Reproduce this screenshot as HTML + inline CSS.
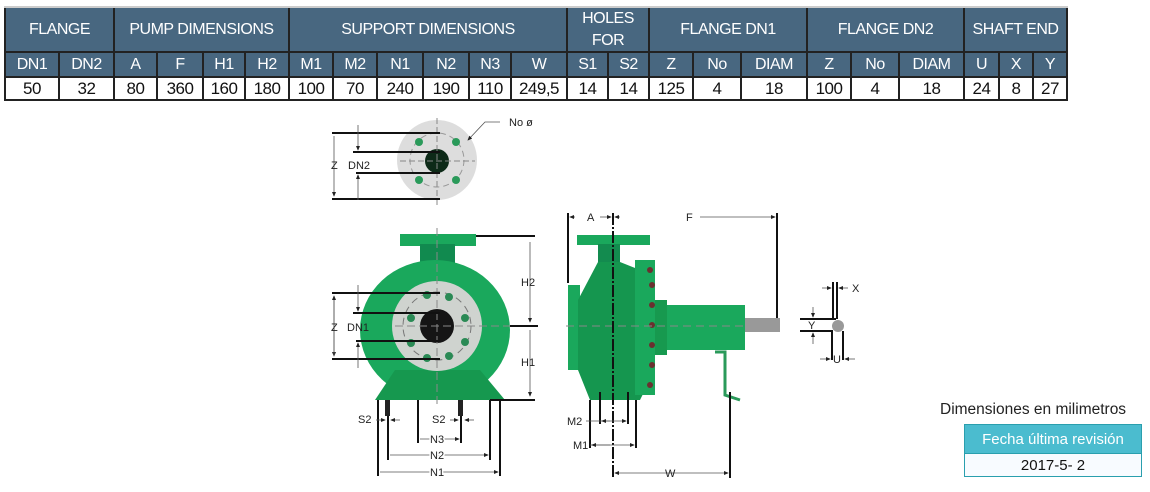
<!DOCTYPE html>
<html><head><meta charset="utf-8"><style>
body{margin:0;width:1150px;height:492px;background:#fff;position:relative;overflow:hidden;font-family:"Liberation Sans",sans-serif}
.c{position:absolute;display:flex;align-items:center;justify-content:center;box-sizing:border-box;text-align:center;letter-spacing:-0.5px}
.h{background:#486780;color:#fff;font-size:16px;border-right:2px solid #222;border-bottom:2px solid #222}
.d{background:#fff;color:#111;font-size:17px;border-right:2px solid #222;border-bottom:2px solid #222}
</style></head><body>
<div style="position:absolute;left:4px;top:6px;width:1064px;height:2px;background:#ccc"></div>
<div style="position:absolute;left:4px;top:8px;width:2px;height:93px;background:#222"></div>
<div class="c h" style="left:6px;top:8px;width:109px;height:45px">FLANGE</div>
<div class="c h" style="left:115px;top:8px;width:175px;height:45px">PUMP DIMENSIONS</div>
<div class="c h" style="left:290px;top:8px;width:278px;height:45px">SUPPORT DIMENSIONS</div>
<div class="c h" style="left:568px;top:8px;width:82px;height:45px;line-height:22px">HOLES<br>FOR</div>
<div class="c h" style="left:650px;top:8px;width:158px;height:45px">FLANGE DN1</div>
<div class="c h" style="left:808px;top:8px;width:157px;height:45px">FLANGE DN2</div>
<div class="c h" style="left:965px;top:8px;width:103px;height:45px">SHAFT END</div>
<div id="r2"></div>
<script>
var cols=[["DN1",6,60,"50"],["DN2",60,115,"32"],["A",115,158,"80"],["F",158,204,"360"],["H1",204,246,"160"],["H2",246,290,"180"],["M1",290,334,"100"],["M2",334,378,"70"],["N1",378,424,"240"],["N2",424,470,"190"],["N3",470,512,"110"],["W",512,568,"249,5"],["S1",568,609,"14"],["S2",609,650,"14"],["Z",650,694,"125"],["No",694,742,"4"],["DIAM",742,808,"18"],["Z",808,852,"100"],["No",852,900,"4"],["DIAM",900,965,"18"],["U",965,1000,"24"],["X",1000,1034,"8"],["Y",1034,1068,"27"]];
var s="";cols.forEach(function(c){s+='<div class="c h" style="left:'+c[1]+'px;top:53px;width:'+(c[2]-c[1])+'px;height:25px">'+c[0]+'</div><div class="c d" style="left:'+c[1]+'px;top:78px;width:'+(c[2]-c[1])+'px;height:23px">'+c[3]+'</div>';});
document.getElementById("r2").outerHTML=s;
</script>
<svg width="1150" height="492" style="position:absolute;left:0;top:0" font-family="Liberation Sans" font-size="11" fill="#222">
<defs><marker id="a" markerWidth="6" markerHeight="6" refX="5" refY="3" orient="auto"><path d="M0,0.5L6,3L0,5.5z" fill="#222"/></marker></defs>
<circle cx="437" cy="160" r="40" fill="#ddd"/>
<circle cx="437" cy="160" r="27" fill="none" stroke="#999" stroke-dasharray="6,4"/>
<circle cx="419" cy="142" r="4" fill="#2a9a5a"/><circle cx="456" cy="142" r="4" fill="#2a9a5a"/><circle cx="419" cy="180" r="4" fill="#2a9a5a"/><circle cx="456" cy="180" r="4" fill="#2a9a5a"/>
<circle cx="437" cy="161" r="12" fill="#0d2a18"/>
<line x1="437" y1="118" x2="437" y2="205" stroke="#888" stroke-dasharray="6,3"/>
<line x1="400" y1="161" x2="475" y2="161" stroke="#888" stroke-dasharray="6,3"/>
<g stroke="#111" stroke-width="2"><line x1="332" y1="133" x2="440" y2="133"/><line x1="353" y1="152" x2="440" y2="152"/><line x1="356" y1="173" x2="440" y2="173"/><line x1="332" y1="199" x2="440" y2="199"/></g>
<g stroke="#555" stroke-width="0.8"><line x1="334" y1="136" x2="334" y2="196" marker-end="url(#a)"/><line x1="358" y1="125" x2="358" y2="150" marker-end="url(#a)"/><line x1="358" y1="200" x2="358" y2="175" marker-end="url(#a)"/><polyline points="500,122 485,122 468,140" fill="none" marker-end="url(#a)"/></g>
<text x="331" y="169">Z</text><text x="348" y="169">DN2</text><text x="509" y="126">No ø</text>
<rect x="400" y="234" width="76" height="12" fill="#1aa85c"/>
<rect x="420" y="244" width="35" height="30" fill="#118a4f"/>
<ellipse cx="435" cy="330" rx="75" ry="70" fill="#1aa85c"/>
<path d="M375,400 L395,370 L480,370 L505,400 z" fill="#16984f"/>
<circle cx="437" cy="326" r="45" fill="#cfd3cf"/>
<circle cx="437" cy="326" r="34" fill="none" stroke="#777" stroke-dasharray="7,5"/>
<g fill="#2a8a55"><circle cx="427" cy="295" r="4"/><circle cx="449" cy="297" r="4"/><circle cx="411" cy="318" r="4"/><circle cx="465" cy="318" r="4"/><circle cx="411" cy="343" r="4"/><circle cx="465" cy="342" r="4"/><circle cx="427" cy="358" r="4"/><circle cx="449" cy="356" r="4"/></g>
<circle cx="437" cy="326" r="17" fill="#151515"/>
<line x1="437" y1="228" x2="437" y2="405" stroke="#888" stroke-dasharray="8,4"/>
<line x1="395" y1="326" x2="530" y2="326" stroke="#888" stroke-dasharray="8,4"/>
<g stroke="#111" stroke-width="2"><line x1="476" y1="236" x2="535" y2="236"/><line x1="510" y1="326" x2="538" y2="326"/><line x1="490" y1="400" x2="535" y2="400"/>
<line x1="332" y1="293" x2="440" y2="293"/><line x1="353" y1="313" x2="440" y2="313"/><line x1="356" y1="341" x2="440" y2="341"/><line x1="332" y1="359" x2="440" y2="359"/>
<line x1="378" y1="400" x2="378" y2="476"/><line x1="388" y1="404" x2="388" y2="460"/><line x1="418" y1="400" x2="418" y2="443"/><line x1="461" y1="404" x2="461" y2="443"/><line x1="490" y1="400" x2="490" y2="460"/><line x1="500" y1="400" x2="500" y2="476"/></g>
<rect x="385" y="400" width="5" height="16" fill="#222"/><rect x="458" y="400" width="5" height="16" fill="#222"/>
<g stroke="#555" stroke-width="0.8"><line x1="530" y1="242" x2="530" y2="322" marker-end="url(#a)"/><line x1="530" y1="330" x2="530" y2="396" marker-end="url(#a)"/>
<line x1="334" y1="296" x2="334" y2="356" marker-end="url(#a)"/><line x1="334" y1="356" x2="334" y2="296" marker-end="url(#a)"/>
<line x1="358" y1="285" x2="358" y2="311" marker-end="url(#a)"/><line x1="358" y1="368" x2="358" y2="343" marker-end="url(#a)"/>
<line x1="376" y1="420" x2="385" y2="420" marker-end="url(#a)"/><line x1="400" y1="420" x2="391" y2="420" marker-end="url(#a)"/>
<line x1="450" y1="420" x2="458" y2="420" marker-end="url(#a)"/><line x1="474" y1="420" x2="465" y2="420" marker-end="url(#a)"/>
<line x1="420" y1="439" x2="459" y2="439" marker-end="url(#a)"/><line x1="390" y1="455" x2="488" y2="455" marker-end="url(#a)"/><line x1="380" y1="472" x2="498" y2="472" marker-end="url(#a)"/></g>
<text x="331" y="331">Z</text><text x="347" y="331">DN1</text><text x="521" y="286">H2</text><text x="521" y="366">H1</text>
<text x="358" y="423">S2</text><text x="432" y="423">S2</text><text x="430" y="443" stroke="#fff" stroke-width="3" paint-order="stroke">N3</text><text x="430" y="459" stroke="#fff" stroke-width="3" paint-order="stroke">N2</text><text x="430" y="476" stroke="#fff" stroke-width="3" paint-order="stroke">N1</text>
<rect x="568" y="285" width="12" height="85" fill="#1aa85c"/>
<rect x="577" y="235" width="73" height="10" fill="#1aa85c"/>
<rect x="598" y="244" width="22" height="20" fill="#138b4f"/>
<path d="M578,300 L598,262 L620,262 L640,270 L650,300 L650,380 L640,400 L590,400 L578,370z" fill="#15964f"/>
<rect x="635" y="260" width="20" height="135" fill="#1aa85c"/>
<g fill="#6a3030"><circle cx="650" cy="270" r="3"/><circle cx="652" cy="285" r="3"/><circle cx="652" cy="305" r="3"/><circle cx="652" cy="325" r="3"/><circle cx="652" cy="345" r="3"/><circle cx="652" cy="365" r="3"/><circle cx="650" cy="385" r="3"/></g>
<rect x="655" y="300" width="12" height="55" fill="#17994f"/>
<rect x="667" y="305" width="78" height="45" fill="#1aa85c"/>
<rect x="745" y="318" width="35" height="14" fill="#999"/>
<path d="M715,352 L725,352 L725,395 L740,400" fill="none" stroke="#2a9a5a" stroke-width="3"/>
<line x1="566" y1="326" x2="745" y2="326" stroke="#888" stroke-dasharray="8,5"/>
<g stroke="#111" stroke-width="2"><line x1="568" y1="213" x2="568" y2="283"/><line x1="777" y1="213" x2="777" y2="318"/><line x1="730" y1="392" x2="730" y2="478"/>
<line x1="590" y1="400" x2="590" y2="448"/><line x1="600" y1="392" x2="600" y2="424"/><line x1="628" y1="392" x2="628" y2="424"/><line x1="636" y1="400" x2="636" y2="448"/></g>
<line x1="613" y1="213" x2="613" y2="478" stroke="#111" stroke-width="2" stroke-dasharray="12,2,2,2"/>
<g stroke="#555" stroke-width="0.8"><line x1="575" y1="217" x2="570" y2="217" marker-end="url(#a)"/><line x1="600" y1="217" x2="611" y2="217" marker-end="url(#a)"/><line x1="620" y1="217" x2="615" y2="217" marker-end="url(#a)"/><line x1="700" y1="217" x2="775" y2="217" marker-end="url(#a)"/>
<line x1="586" y1="421" x2="626" y2="421" marker-end="url(#a)"/><line x1="610" y1="421" x2="602" y2="421" marker-end="url(#a)"/>
<line x1="590" y1="445" x2="634" y2="445" marker-end="url(#a)"/><line x1="610" y1="445" x2="592" y2="445" marker-end="url(#a)"/>
<line x1="660" y1="473" x2="728" y2="473" marker-end="url(#a)"/><line x1="660" y1="473" x2="615" y2="473" marker-end="url(#a)"/></g>
<text x="587" y="221" stroke="#fff" stroke-width="3" paint-order="stroke">A</text><text x="686" y="221" stroke="#fff" stroke-width="3" paint-order="stroke">F</text>
<text x="567" y="425">M2</text><text x="573" y="449">M1</text><text x="665" y="477">W</text>
<g stroke="#111" stroke-width="2"><line x1="800" y1="319" x2="836" y2="319"/><line x1="800" y1="331" x2="833" y2="331"/><line x1="833" y1="282" x2="833" y2="319"/><line x1="837" y1="282" x2="837" y2="319"/><line x1="832" y1="331" x2="832" y2="360"/><line x1="843" y1="331" x2="843" y2="360"/></g>
<circle cx="838" cy="326" r="6" fill="#999"/>
<g stroke="#555" stroke-width="0.8"><line x1="822" y1="288" x2="831" y2="288" marker-end="url(#a)"/><line x1="848" y1="288" x2="839" y2="288" marker-end="url(#a)"/>
<line x1="813" y1="307" x2="813" y2="317" marker-end="url(#a)"/><line x1="813" y1="344" x2="813" y2="333" marker-end="url(#a)"/>
<line x1="820" y1="359" x2="830" y2="359" marker-end="url(#a)"/><line x1="855" y1="359" x2="845" y2="359" marker-end="url(#a)"/></g>
<text x="852" y="292">X</text><text x="808" y="329">Y</text><text x="833" y="363">U</text>
</svg>
<div style="position:absolute;left:940px;top:401px;font-size:15.5px;color:#222">Dimensiones en milimetros</div>
<div class="c" style="left:964px;top:424px;width:178px;height:30px;background:#4bbccf;color:#fff;font-size:15px;border:1px solid #2a9fae;letter-spacing:0">Fecha última revisión</div>
<div class="c" style="left:964px;top:454px;width:178px;height:23px;background:#f8fbff;color:#111;font-size:15px;border:1px solid #2a9fae;border-top:none;letter-spacing:0">2017-5- 2</div>
</body></html>
